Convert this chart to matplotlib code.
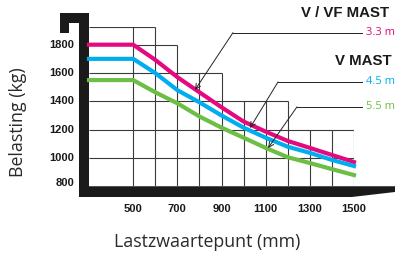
import matplotlib
matplotlib.use("Agg")
import matplotlib.pyplot as plt
from matplotlib.patches import Polygon

# Load centre (mm) and capacity (kg) per mast
load_centre = [300, 500, 600, 700, 800, 900, 1000, 1100, 1200, 1300, 1400, 1500]
cap_33 = [1800, 1800, 1693, 1571, 1464, 1358, 1257, 1186, 1120, 1071, 1021, 971]
cap_45 = [1700, 1700, 1600, 1479, 1393, 1300, 1214, 1143, 1079, 1036, 986, 943]
cap_55 = [1550, 1550, 1464, 1386, 1293, 1214, 1143, 1071, 1005, 964, 921, 879]

x_ticks = [500, 700, 900, 1100, 1300, 1500]
y_ticks = [1800, 1600, 1400, 1200, 1000, 800]

PINK = "#E5097F"
BLUE = "#00AEEF"
GREEN = "#6CBE45"
GRID = "#3a3a3a"

fig = plt.figure(figsize=(3.95, 2.56), dpi=100)
ax = fig.add_axes([89/395, 1 - 186.25/256, 265/395, 159.25/256])
ax.set_xlim(300, 1500)
ax.set_ylim(800, 1925)
ax.axis("off")

# staircase grid
v_lines = [(500, 1925), (600, 1925), (700, 1800), (800, 1600), (900, 1600),
           (1000, 1400), (1100, 1400), (1200, 1400), (1300, 1200), (1400, 1200), (1500, 1200)]
for x, top in v_lines:
    ax.vlines(x, 800, top, color=GRID, lw=0.8, zorder=1)
h_lines = [(1925, 300, 600), (1800, 300, 700), (1600, 300, 900),
           (1400, 300, 1200), (1200, 300, 1500), (1000, 300, 1500)]
for y, x0, x1 in h_lines:
    ax.hlines(y, x0, x1, color=GRID, lw=0.8, zorder=1)

# fork / mast silhouette
shapes = [
    [(254.7, 724), (300, 724), (300, 2027), (254.7, 2027)],
    [(168.7, 1953), (300, 1953), (300, 2027), (168.7, 2027)],
    [(168.7, 1882), (210.8, 1882), (210.8, 2027), (168.7, 2027)],
    [(254.7, 724), (1490, 724), (1700, 762), (1700, 800), (254.7, 800)],
]
for pts in shapes:
    ax.add_patch(Polygon(pts, closed=True, facecolor="#1a1a1a", edgecolor="none",
                         clip_on=False, zorder=3))

ax.plot(load_centre, cap_33, color=PINK, lw=3, zorder=4, clip_on=False)
ax.plot(load_centre, cap_45, color=BLUE, lw=3, zorder=4, clip_on=False)
ax.plot(load_centre, cap_55, color=GREEN, lw=3, zorder=4, clip_on=False)

tick_font = dict(family="Liberation Sans", fontsize=8, fontweight="bold", color="#1a1a1a")
for x in x_ticks:
    ax.text(x, 640, str(x), ha="center", va="center", **tick_font)
for y in y_ticks:
    yy = 822 if y == 800 else y
    ax.text(234, yy, str(y), ha="right", va="center", **tick_font)

# leader lines with open arrowheads
leaders = [((1536, 1885), (952, 1885), (780, 1481)),
           ((1536, 1537), (1156, 1537), (1029, 1212)),
           ((1536, 1361), (1242, 1361), (1111, 1070))]
for start, knee, tip in leaders:
    ax.plot([start[0], knee[0]], [start[1], knee[1]], color="#222222", lw=0.7,
            clip_on=False, zorder=5)
    ax.annotate("", xy=tip, xytext=knee,
                arrowprops=dict(arrowstyle="->", color="#222222", lw=0.7,
                                mutation_scale=9, shrinkA=0, shrinkB=0),
                zorder=5, annotation_clip=False)

label_font = dict(family="Liberation Sans", fontweight="bold", fontsize=10.8, color="#1a1a1a")
ax.text(1260, 2027, "V / VF MAST", ha="left", va="center", **label_font)
ax.text(1415, 1687, "V MAST", ha="left", va="center", **label_font)
mast_font = dict(family="Open Sans", fontsize=8, ha="left", va="center")
ax.text(1554, 1885, "3.3 m", color=PINK, **mast_font)
ax.text(1554, 1537, "4.5 m", color=BLUE, **mast_font)
ax.text(1554, 1361, "5.5 m", color=GREEN, **mast_font)

fig.text(18/395, 1 - 122/256, "Belasting (kg)", rotation=90, ha="center", va="center",
         family="Open Sans", fontsize=12.8, color="#2a2a2a")
fig.text(207/395, 1 - 242/256, "Lastzwaartepunt (mm)", ha="center", va="center",
         family="Open Sans", fontsize=12.8, color="#2a2a2a")

fig.savefig("out.png", dpi=100)
